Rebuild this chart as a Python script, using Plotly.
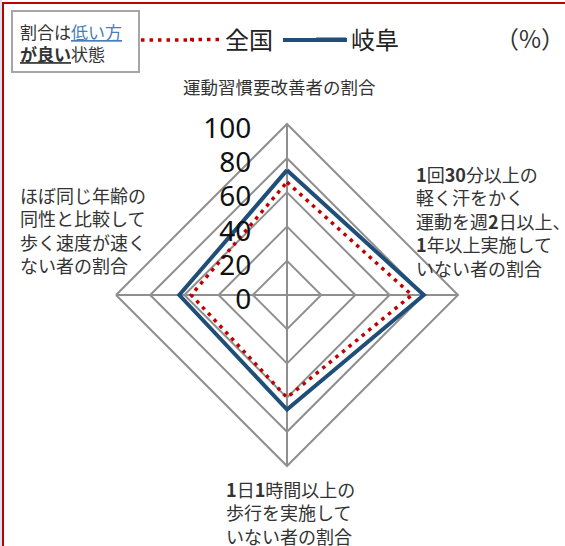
import plotly.graph_objects as go

# -------------------------
# data
# -------------------------
categories = [
    "運動習慣要改善者の割合",
    "<b>1</b>回<b>30</b>分以上の<br>軽く汗をかく<br>運動を週<b>2</b>日以上、<br><b>1</b>年以上実施して<br>いない者の割合",
    "<b>1</b>日<b>1</b>時間以上の<br>歩行を実施して<br>いない者の割合",
    "ほぼ同じ年齢の<br>同性と比較して<br>歩く速度が速く<br>ない者の割合",
]
cat_keys = ["top", "right", "bottom", "left"]
zenkoku = [66, 73, 60, 56]   # 全国
gifu = [73, 80, 67, 63]      # 岐阜
radial_ticks = [0, 20, 40, 60, 80, 100]

W, H = 565, 546
FONT = "Noto Sans CJK JP"
GRID = "#8f8f8f"
RED = "#c00000"
BLUE = "#1f4e79"
RED_DASH = "3.5px,5px"


def px(x, y):
    # pixel -> paper coords
    return x / W, 1 - y / H


# close the polygons
theta = cat_keys + [cat_keys[0]]

fig = go.Figure()
fig.add_trace(go.Scatterpolar(
    r=zenkoku + [zenkoku[0]], theta=theta, mode="lines", name="全国",
    line=dict(color=RED, width=3.5, dash=RED_DASH),
))
fig.add_trace(go.Scatterpolar(
    r=gifu + [gifu[0]], theta=theta, mode="lines", name="岐阜",
    line=dict(color=BLUE, width=4),
))

# polar domain: center (287, 295), radius 170
x0, y0 = px(116, 466)
x1, y1 = px(458, 124)

fig.update_layout(
    width=W, height=H,
    margin=dict(l=0, r=0, t=0, b=0),
    paper_bgcolor="white",
    font=dict(family=FONT, color="#333333"),
    showlegend=True,
    legend=dict(
        orientation="h", x=px(185, 0)[0], y=px(0, 40)[1],
        xanchor="left", yanchor="middle",
        font=dict(size=24, color="#222222", family=FONT),
        entrywidth=81, entrywidthmode="pixels",
        itemwidth=30, tracegroupgap=0,
        bgcolor="rgba(0,0,0,0)",
    ),
    polar=dict(
        domain=dict(x=[x0, x1], y=[y0, y1]),
        bgcolor="white",
        gridshape="linear",
        radialaxis=dict(
            range=[0, 100], tickvals=radial_ticks, angle=90,
            side="counterclockwise",
            showline=False, showgrid=True, gridcolor=GRID, gridwidth=2,
            ticks="outside", ticklen=10, tickcolor="rgba(0,0,0,0)",
            tickfont=dict(size=28, color="#111111", family="Noto Sans"),
        ),
        angularaxis=dict(
            categoryarray=cat_keys, categoryorder="array",
            rotation=90, direction="clockwise",
            showticklabels=False, ticks="",
            showline=True, linecolor=GRID, linewidth=2,
            showgrid=True, gridcolor=GRID, gridwidth=2,
        ),
    ),
)

# longer legend keys, like the original
ly = px(0, 40)[1]
fig.add_shape(type="line", xref="paper", yref="paper",
              x0=px(141, 0)[0], x1=px(194, 0)[0], y0=ly, y1=ly,
              line=dict(color=RED, width=3.5, dash=RED_DASH))
fig.add_shape(type="line", xref="paper", yref="paper",
              x0=px(283, 0)[0], x1=px(347, 0)[0], y0=ly, y1=ly,
              line=dict(color=BLUE, width=4))

# category labels
label_pos = {
    "top": (279, 86, "center", "middle", "center", 17.5),
    "right": (414, 221, "left", "middle", "left", 18),
    "bottom": (224, 512, "left", "middle", "left", 18),
    "left": (18, 230, "left", "middle", "left", 18),
}
for key, text in zip(cat_keys, categories):
    x, y, xa, ya, al, fs = label_pos[key]
    ax_, ay_ = px(x, y)
    fig.add_annotation(
        x=ax_, y=ay_, xref="paper", yref="paper", xanchor=xa, yanchor=ya,
        text=text, align=al, showarrow=False,
        font=dict(size=fs, color="#333333", family=FONT),
    )

# note box top-left
bx0, by0 = px(12, 72)
bx1, by1 = px(139, 11)
fig.add_shape(type="rect", xref="paper", yref="paper",
              x0=bx0, y0=by0, x1=bx1, y1=by1,
              line=dict(color="#a6a6a6", width=2), fillcolor="white")
nx, ny = px(18, 43)
fig.add_annotation(
    x=nx, y=ny, xref="paper", yref="paper", xanchor="left", yanchor="middle",
    text=("割合は<span style='color:#4a7ebb'><u>低い方</u></span><br>"
          "<b><u>が良い</u></b>状態"),
    align="left", showarrow=False,
    font=dict(size=17, color="#333333", family=FONT),
)

# (%)
pxp, pyp = px(530, 38)
fig.add_annotation(x=pxp, y=pyp, xref="paper", yref="paper",
                   xanchor="center", yanchor="middle",
                   text="（%）", showarrow=False,
                   font=dict(size=24, color="#333333", family=FONT))

# red frame + thin strip at the left edge
fig.add_shape(type="rect", xref="paper", yref="paper",
              x0=0, y0=0, x1=px(2, 0)[0], y1=1,
              line=dict(width=0), fillcolor="#dce3ee")
fx0, fy0 = px(3, 560)
fx1, fy1 = px(580, 3)
fig.add_shape(type="rect", xref="paper", yref="paper",
              x0=fx0, y0=fy0, x1=fx1, y1=fy1,
              line=dict(color=RED, width=2))

fig.write_html("out.html", config={"displayModeBar": False},
               post_script="document.body.style.margin='0';")
